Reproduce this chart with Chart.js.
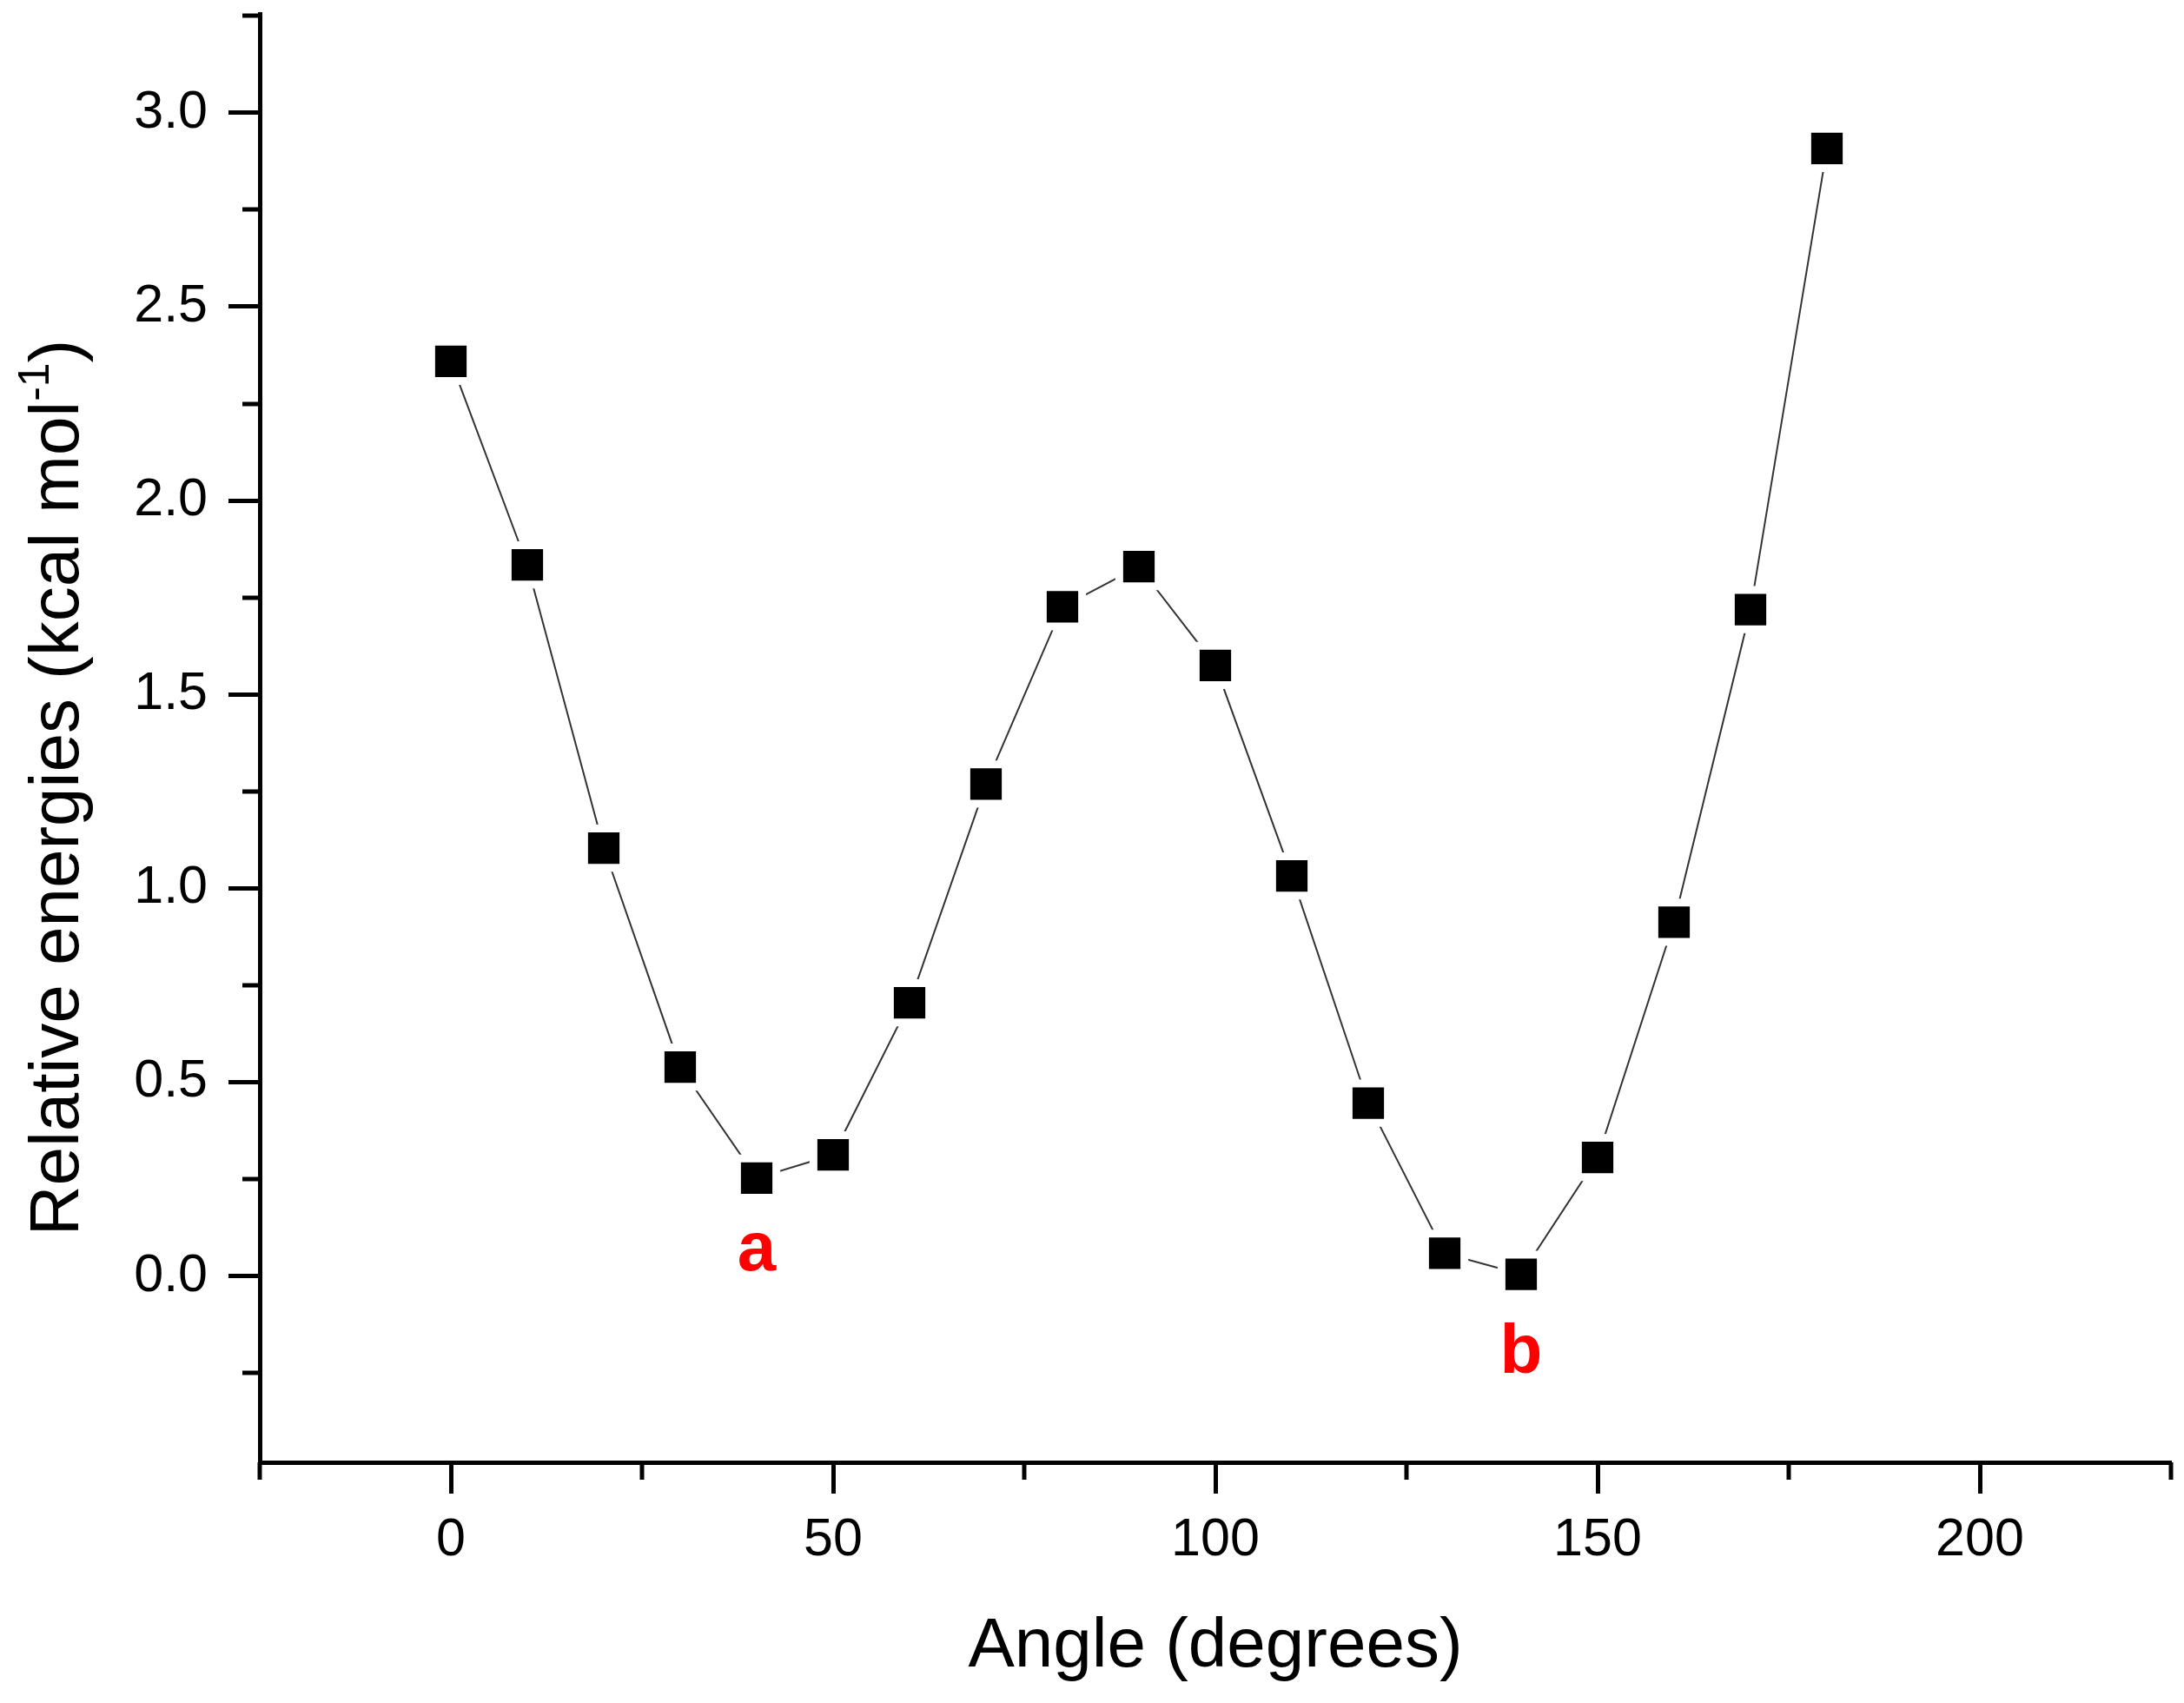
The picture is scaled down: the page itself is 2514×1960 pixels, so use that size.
<!DOCTYPE html>
<html>
<head>
<meta charset="utf-8">
<script src="https://cdn.jsdelivr.net/npm/chart.js@4.4.1/dist/chart.umd.min.js"></script>
<style>
  html, body { margin: 0; padding: 0; background: #fff; }
  canvas { display: block; }
</style>
</head>
<body>
<canvas id="c" width="2514" height="1960" style="width:2514px;height:1960px"></canvas>
<script>
// ---- data ----
const angles = [0, 10, 20, 30, 40, 50, 60, 70, 80, 90, 100, 110, 120, 130, 140, 150, 160, 170, 180];
const energies = [2.359, 1.834, 1.104, 0.539, 0.253, 0.313, 0.705, 1.269, 1.726, 1.830, 1.575, 1.032, 0.446, 0.059, 0.005, 0.306, 0.913, 1.719, 2.908];
const xTickValues = [-25, 0, 25, 50, 75, 100, 125, 150, 175, 200, 225];
const yTickValues = [-0.25, 0, 0.25, 0.5, 0.75, 1.0, 1.25, 1.5, 1.75, 2.0, 2.25, 2.5, 2.75, 3.0, 3.25];
const minimaLabels = ['a', 'b'];
const minimaAngles = [40, 140];
const xTitle = 'Angle (degrees)';
const yTitleMain = 'Relative energies (kcal mol';
const yTitleSup = '-1';
const yTitleEnd = ')';

const FONT = "'Liberation Sans', Arial, sans-serif";
const isMajorX = v => v % 50 === 0;
const isMajorY = v => Math.abs(v * 2 - Math.round(v * 2)) < 1e-6;

const minorTicks = {
  id: 'minorTicks',
  afterDraw(chart) {
    const ctx = chart.ctx;
    const xs = chart.scales.x, ys = chart.scales.y;
    ctx.save();
    ctx.strokeStyle = '#000';
    ctx.lineWidth = 5;
    xs.ticks.forEach(t => {
      if (!isMajorX(t.value)) {
        const px = Math.round(xs.getPixelForValue(t.value));
        ctx.beginPath();
        ctx.moveTo(px, xs.top);
        ctx.lineTo(px, xs.top + 20);
        ctx.stroke();
      }
    });
    ys.ticks.forEach(t => {
      if (!isMajorY(t.value)) {
        const py = Math.round(ys.getPixelForValue(t.value));
        ctx.beginPath();
        ctx.moveTo(ys.right, py);
        ctx.lineTo(ys.right - 20, py);
        ctx.stroke();
      }
    });
    ctx.restore();
  }
};

const yTitlePlugin = {
  id: 'yTitle',
  afterDraw(chart) {
    const ctx = chart.ctx;
    const ca = chart.chartArea;
    const cy = (ca.top + ca.bottom) / 2 + 57;
    ctx.save();
    ctx.fillStyle = '#000';
    ctx.textBaseline = 'alphabetic';
    ctx.textAlign = 'left';
    ctx.translate(90, cy);
    ctx.rotate(-Math.PI / 2);
    const mainFont = '80px ' + FONT;
    const supFont = '50px ' + FONT;
    ctx.font = mainFont;
    const w1 = ctx.measureText(yTitleMain).width;
    const w3 = ctx.measureText(yTitleEnd).width;
    ctx.font = supFont;
    const w2 = ctx.measureText(yTitleSup).width;
    const start = -(w1 + w2 + w3) / 2;
    ctx.font = mainFont;
    ctx.fillText(yTitleMain, start, 0);
    ctx.font = supFont;
    ctx.fillText(yTitleSup, start + w1, -34);
    ctx.font = mainFont;
    ctx.fillText(yTitleEnd, start + w1 + w2, 0);
    ctx.restore();
  }
};

const minimaPlugin = {
  id: 'minima',
  afterDraw(chart) {
    const ctx = chart.ctx;
    const xs = chart.scales.x, ys = chart.scales.y;
    const offsets = [106, 113];
    ctx.save();
    ctx.fillStyle = '#ff0000';
    ctx.font = 'bold 80px ' + FONT;
    ctx.textAlign = 'center';
    ctx.textBaseline = 'alphabetic';
    minimaLabels.forEach((txt, i) => {
      const idx = angles.indexOf(minimaAngles[i]);
      const px = xs.getPixelForValue(minimaAngles[i]);
      const py = ys.getPixelForValue(energies[idx]);
      ctx.fillText(txt, px, py + offsets[i]);
    });
    ctx.restore();
  }
};

new Chart(document.getElementById('c'), {
  type: 'line',
  data: {
    datasets: [{
      data: angles.map((a, i) => ({ x: a, y: energies[i] })),
      borderColor: '#333333',
      borderWidth: 2,
      pointStyle: 'rect',
      pointRadius: 32,
      pointBackgroundColor: '#000',
      pointBorderColor: '#fff',
      pointBorderWidth: 9,
      fill: false,
      tension: 0,
      clip: false
    }]
  },
  options: {
    responsive: false,
    devicePixelRatio: 1,
    animation: false,
    events: [],
    layout: { autoPadding: false, padding: { top: 16, right: 15, bottom: 0, left: 0 } },
    plugins: { legend: { display: false }, tooltip: { enabled: false } },
    scales: {
      x: {
        type: 'linear',
        min: -25,
        max: 225,
        afterBuildTicks: s => { s.ticks = xTickValues.map(v => ({ value: v })); },
        afterFit: s => { s.height = 277; s.paddingLeft = 0; s.paddingRight = 0; },
        grid: {
          drawOnChartArea: false,
          drawTicks: true,
          tickLength: 36,
          tickWidth: 5,
          tickColor: c => (c.tick && isMajorX(c.tick.value)) ? '#000' : 'rgba(0,0,0,0)'
        },
        border: { display: true, color: '#000', width: 5 },
        ticks: {
          autoSkip: false,
          maxRotation: 0,
          padding: 18,
          color: '#000',
          font: { family: FONT, size: 61 },
          callback: v => isMajorX(v) ? String(v) : ''
        },
        title: {
          display: true,
          text: xTitle,
          color: '#000',
          font: { family: FONT, size: 80 },
          padding: { top: 0, bottom: 16 }
        }
      },
      y: {
        type: 'linear',
        min: -0.48,
        max: 3.255,
        afterBuildTicks: s => { s.ticks = yTickValues.map(v => ({ value: v })); },
        afterFit: s => { s.width = 299; s.paddingTop = 0; s.paddingBottom = 0; },
        grid: {
          drawOnChartArea: false,
          drawTicks: true,
          tickLength: 36,
          tickWidth: 5,
          tickColor: c => (c.tick && isMajorY(c.tick.value)) ? '#000' : 'rgba(0,0,0,0)'
        },
        border: { display: true, color: '#000', width: 5 },
        ticks: {
          autoSkip: false,
          padding: 24,
          color: '#000',
          font: { family: FONT, size: 61 },
          callback: v => isMajorY(v) ? v.toFixed(1) : ''
        }
      }
    }
  },
  plugins: [minorTicks, yTitlePlugin, minimaPlugin]
});
</script>
</body>
</html>
